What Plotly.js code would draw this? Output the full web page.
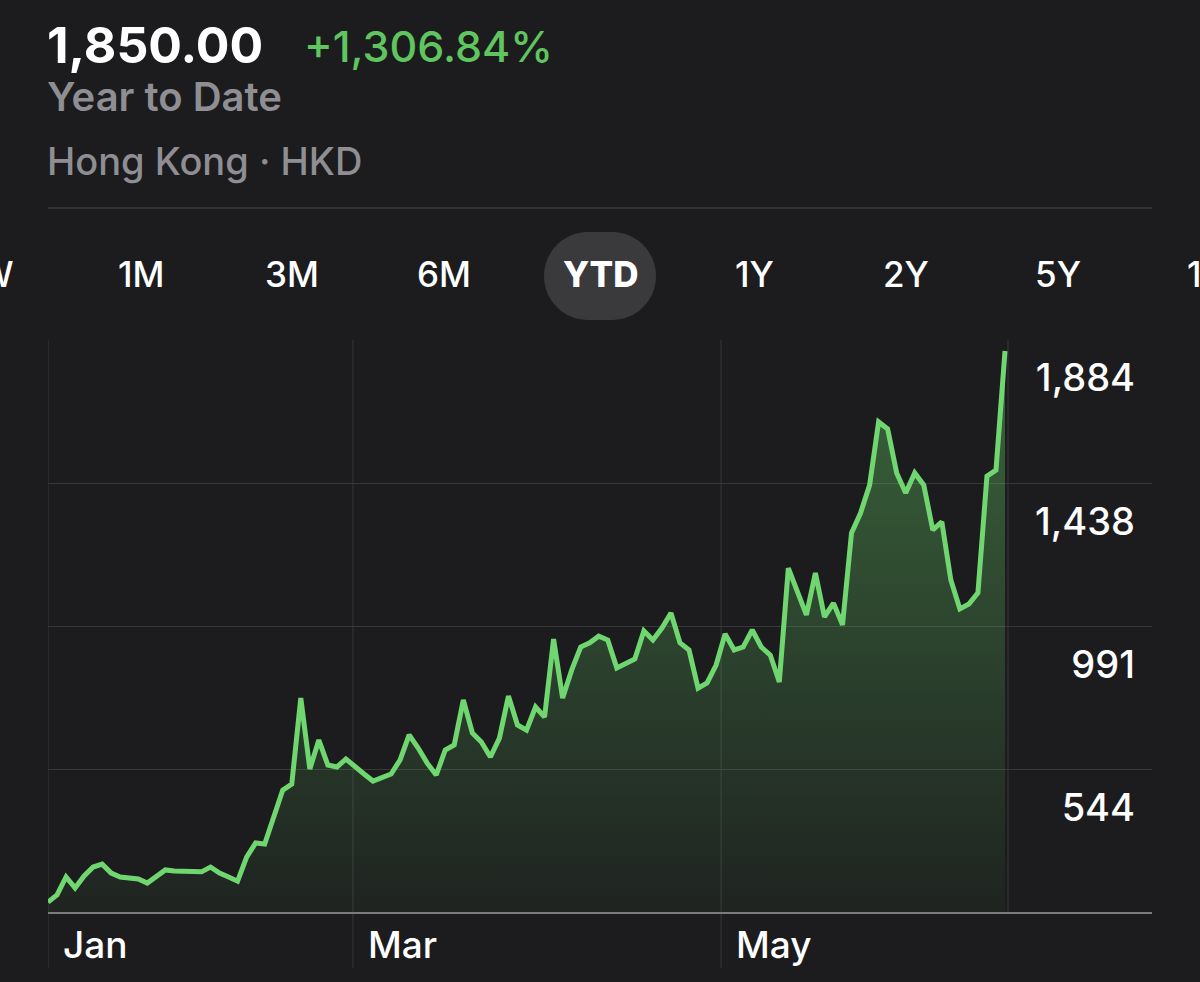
<!DOCTYPE html>
<html>
<head>
<meta charset="utf-8">
<script src="https://cdn.plot.ly/plotly-3.0.1.min.js"></script>
<style>
  html, body { margin: 0; padding: 0; background: #1c1c1e; }
  #chart { width: 1200px; height: 982px; }
</style>
</head>
<body>
<div id="chart"></div>
<script>
// ---- Data ----
const tradingDay = Array.from({length: 107}, (_, i) => i);
const closePrice = [
  131.5, 154, 210, 176, 213, 241, 250, 222, 210, 208,
  204, 191, 213, 232, 229, 229, 227, 226, 241, 222,
  210, 197, 272, 316, 313, 397, 481, 500, 768, 547,
  637, 559, 553, 578, 553, 531, 509, 519, 531, 575,
  653, 612, 565, 528, 606, 622, 762, 659, 631, 584,
  643, 774, 684, 668, 740, 709, 952, 768, 855, 927,
  940, 961, 949, 862, 877, 890, 977, 949, 986, 1033,
  940, 918, 799, 815, 871, 968, 918, 927, 980, 927,
  902, 818, 1173, 1105, 1027, 1158, 1021, 1064, 996, 1283,
  1345, 1432, 1629, 1607, 1470, 1407, 1470, 1432, 1292, 1317,
  1136, 1046, 1061, 1096, 1460, 1479, 1850
];
const monthLabels = ['Jan', 'Mar', 'May'];
const monthTickIdx = [0, 33.78, 74.55];
const lastIdxLine = 106.33;
const priceTickVals = [544.4, 991.1, 1437.7, 1884.4];
const priceTickText = ['544', '991', '1,438', '1,884'];
const headline = {price: '1,850.00', change: '+1,306.84%', period: 'Year to Date', market: 'Hong Kong · HKD'};
const rangeTabs = ['1W', '1M', '3M', '6M', 'YTD', '1Y', '2Y', '5Y', '10Y'];
const activeTab = 'YTD';

// ---- Layout helpers (pixel -> paper) ----
const PL = 48, PR = 1152, PT = 340, PB = 913;
const px = x => (x - PL) / (PR - PL);
const py = y => (PB - y) / (PB - PT);

const FONT = 'Inter, "Open Sans", Roboto, sans-serif';
const annotations = [];
function addText(text, x, y, size, color, weight, anchor) {
  annotations.push({
    text: text, xref: 'paper', yref: 'paper', x: px(x), y: py(y),
    xanchor: anchor || 'left', yanchor: 'middle', showarrow: false,
    font: {family: FONT, size: size, color: color, weight: weight}
  });
}
addText(headline.price, 45, 45, 50, '#ffffff', 700);
addText(headline.change, 302, 46, 43, '#5fc55f', 500);
addText(headline.period, 45, 96, 40, '#8e8e93', 600);
addText(headline.market, 45, 161, 38, '#8e8e93', 500);

const tabCenters = [-11, 141, 292, 444, 600, 754, 906, 1058, 1217];
rangeTabs.forEach((t, i) => {
  addText(t, tabCenters[i], 274, 35, '#ffffff', t === activeTab ? 800 : 500, 'center');
});

// capsule path for active tab
function capsule(cx, cy, w, h) {
  const r = h / 2, k = 0.5523 * r;
  const x0 = cx - w / 2 + r, x1 = cx + w / 2 - r, top = cy - r, bot = cy + r;
  const P = (x, y) => px(x) + ',' + py(y);
  return 'M ' + P(x0, top) + ' L ' + P(x1, top) +
    ' C ' + P(x1 + k, top) + ' ' + P(x1 + r, cy - k) + ' ' + P(x1 + r, cy) +
    ' C ' + P(x1 + r, cy + k) + ' ' + P(x1 + k, bot) + ' ' + P(x1, bot) +
    ' L ' + P(x0, bot) +
    ' C ' + P(x0 - k, bot) + ' ' + P(x0 - r, cy + k) + ' ' + P(x0 - r, cy) +
    ' C ' + P(x0 - r, cy - k) + ' ' + P(x0 - k, top) + ' ' + P(x0, top) + ' Z';
}

const shapes = [
  {type: 'line', xref: 'paper', yref: 'paper', x0: px(48), x1: px(1152), y0: py(208), y1: py(208),
   line: {color: '#38383a', width: 1.5}},
  {type: 'path', xref: 'paper', yref: 'paper', path: capsule(600, 276, 112, 88),
   fillcolor: '#3a3a3c', line: {width: 0}, layer: 'below'},
  {type: 'line', xref: 'paper', yref: 'paper', x0: 0, x1: 1, y0: 0, y1: 0,
   line: {color: '#7a7a7f', width: 2}}
];
monthTickIdx.forEach(v => shapes.push({
  type: 'line', xref: 'x', yref: 'paper', x0: v, x1: v, y0: py(968), y1: 1,
  line: {color: '#38383a', width: 1}, layer: 'below'
}));
shapes.push({type: 'line', xref: 'x', yref: 'paper', x0: lastIdxLine, x1: lastIdxLine, y0: 0, y1: 1,
  line: {color: '#38383a', width: 1}, layer: 'below'});

const trace = {
  x: tradingDay, y: closePrice, type: 'scatter', mode: 'lines',
  line: {color: '#70d770', width: 5},
  fill: 'tozeroy',
  fillgradient: {type: 'vertical', start: 97.7, stop: 1884.4,
    colorscale: [[0, 'rgba(100,205,100,0.04)'], [1, 'rgba(100,205,100,0.42)']]},
  hoverinfo: 'skip'
};

const layout = {
  width: 1200, height: 982,
  paper_bgcolor: '#1c1c1e', plot_bgcolor: '#1c1c1e',
  margin: {l: PL, r: 1200 - PR, t: PT, b: 982 - PB},
  showlegend: false,
  xaxis: {
    range: [0, 122.28], tickvals: monthTickIdx, ticktext: monthLabels,
    showgrid: false, zeroline: false, showline: false, ticks: '',
    ticklabelposition: 'outside right', ticklabelshift: 15, ticklabelstandoff: 7,
    tickfont: {family: FONT, size: 37, color: '#ffffff', weight: 500}, fixedrange: true
  },
  yaxis: {
    range: [97.7, 1884.4], side: 'right', tickvals: priceTickVals, ticktext: priceTickText,
    ticklabelposition: 'inside', ticklabelshift: 38, ticklabelstandoff: 14,
    showgrid: true, gridcolor: '#38383a', gridwidth: 1, zeroline: false, showline: false, ticks: '',
    tickfont: {family: FONT, size: 38, color: '#ffffff', weight: 500}, fixedrange: true
  },
  shapes: shapes,
  annotations: annotations
};

Plotly.newPlot('chart', [trace], layout, {displayModeBar: false, staticPlot: true});
</script>
</body>
</html>
